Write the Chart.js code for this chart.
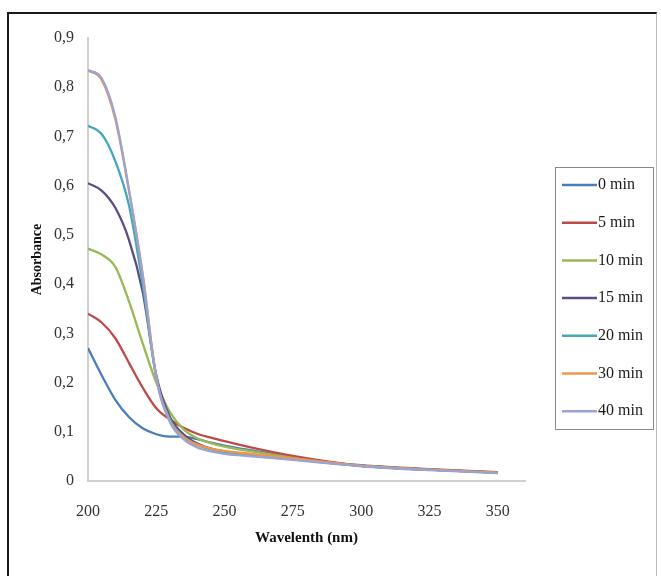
<!DOCTYPE html>
<html>
<head>
<meta charset="utf-8">
<script src="https://cdn.jsdelivr.net/npm/chart.js@4/dist/chart.umd.min.js"></script>
<style>
  body { margin: 0; background: #fff; }
  #frame { position: absolute; left: 7px; top: 12px; width: 650px; height: 570px; border: 2px solid #1a1a1a; border-right: 1px solid #bbb; box-sizing: border-box; }
  canvas { position: absolute; left: 0; top: 0; }
</style>
</head>
<body>
<div id="frame"></div>
<canvas id="myChart" width="661" height="576"></canvas>
<script>
  // wavelengths (nm)
  const wavelengths = [200, 205, 210, 215, 220, 225, 230, 235, 240, 245, 250, 260, 275, 290, 300, 325, 350]

  const seriesNames = ["0 min", "5 min", "10 min", "15 min", "20 min", "30 min", "40 min"]
  const seriesColors = ["#4a7ebb", "#be4b48", "#98b954", "#5e4b86", "#46a6bf", "#f39547", "#9aa4d3"]

  const abs0 = [0.27, 0.215, 0.165, 0.13, 0.107, 0.095, 0.09, 0.09, 0.085, 0.078, 0.072, 0.062, 0.048, 0.037, 0.031, 0.023, 0.017]
  const abs5 = [0.34, 0.322, 0.29, 0.24, 0.19, 0.148, 0.125, 0.108, 0.096, 0.088, 0.081, 0.068, 0.051, 0.038, 0.032, 0.024, 0.018]
  const abs10 = [0.472, 0.46, 0.435, 0.365, 0.28, 0.2, 0.14, 0.105, 0.087, 0.077, 0.07, 0.06, 0.047, 0.036, 0.031, 0.023, 0.017]
  const abs15 = [0.605, 0.59, 0.555, 0.49, 0.385, 0.215, 0.13, 0.095, 0.076, 0.066, 0.06, 0.053, 0.045, 0.036, 0.031, 0.023, 0.017]
  const abs20 = [0.722, 0.705, 0.65, 0.56, 0.4, 0.21, 0.125, 0.09, 0.073, 0.064, 0.058, 0.052, 0.044, 0.036, 0.031, 0.023, 0.017]
  const abs30 = [0.834, 0.815, 0.735, 0.59, 0.42, 0.21, 0.122, 0.089, 0.074, 0.066, 0.061, 0.055, 0.046, 0.037, 0.031, 0.023, 0.017]
  const abs40 = [0.835, 0.818, 0.74, 0.592, 0.42, 0.21, 0.12, 0.085, 0.068, 0.06, 0.055, 0.05, 0.043, 0.035, 0.030, 0.022, 0.016]

  const allSeries = [abs0, abs5, abs10, abs15, abs20, abs30, abs40]

  const yTicks = [0, 0.1, 0.2, 0.3, 0.4, 0.5, 0.6, 0.7, 0.8, 0.9]

  const datasets = allSeries.map((vals, i) => ({
    label: seriesNames[i],
    data: vals.map((v, j) => ({x: wavelengths[j], y: v})),
    borderColor: seriesColors[i],
    backgroundColor: seriesColors[i],
    borderWidth: 2.3,
    pointRadius: 0,
    cubicInterpolationMode: "monotone",
    order: allSeries.length - i
  }))

  // legend drawn like the excel one, with a box around it
  const boxLegend = {
    id: "boxLegend",
    afterDraw(chart) {
      const ctx = chart.ctx
      ctx.save()
      ctx.strokeStyle = "#8a8a8a"
      ctx.lineWidth = 1
      ctx.strokeRect(555.5, 167.5, 98, 262)
      ctx.font = "16px 'Liberation Serif'"
      ctx.textBaseline = "middle"
      ctx.fillStyle = "#1a1a1a"
      seriesNames.forEach((name, i) => {
        const y = 185 + i * 37.7
        ctx.strokeStyle = seriesColors[i]
        ctx.lineWidth = 2.5
        ctx.beginPath()
        ctx.moveTo(562, y)
        ctx.lineTo(597, y)
        ctx.stroke()
        ctx.fillText(name, 598, y)
      })
      ctx.restore()
    }
  }

  const ctx = document.getElementById("myChart")
  new Chart(ctx, {
    type: "line",
    data: { datasets: datasets },
    options: {
      responsive: false,
      animation: false,
      layout: { padding: { top: 38, left: 0, right: 136, bottom: 0 } },
      plugins: { legend: { display: false }, tooltip: { enabled: false } },
      scales: {
        x: {
          type: "linear",
          min: 200,
          max: 360,
          grid: { display: false },
          border: { display: true, color: "#d0d0d0", width: 2 },
          ticks: {
            stepSize: 25,
            includeBounds: false,
            padding: 13,
            color: "#333",
            font: { family: "'Liberation Serif'", size: 16 },
            maxRotation: 0
          },
          title: {
            display: true,
            text: "Wavelenth (nm)",
            color: "#111",
            padding: 29,
            font: { family: "'Liberation Serif'", size: 15, weight: "bold" }
          },
          afterFit: s => { s.height = 95 }
        },
        y: {
          min: 0,
          max: 0.9,
          grid: { display: false },
          border: { display: true, color: "#d0d0d0", width: 2 },
          afterBuildTicks: s => { s.ticks = yTicks.map(v => ({value: v})) },
          ticks: {
            padding: 6,
            color: "#333",
            font: { family: "'Liberation Serif'", size: 16 },
            callback: v => v === 0 ? "0" : v.toFixed(1).replace(".", ",")
          },
          title: {
            display: true,
            text: "Absorbance",
            color: "#111",
            padding: 29,
            font: { family: "'Liberation Serif'", size: 14, weight: "bold" }
          },
          afterFit: s => { s.width = 88 }
        }
      }
    },
    plugins: [boxLegend]
  })
</script>
</body>
</html>
